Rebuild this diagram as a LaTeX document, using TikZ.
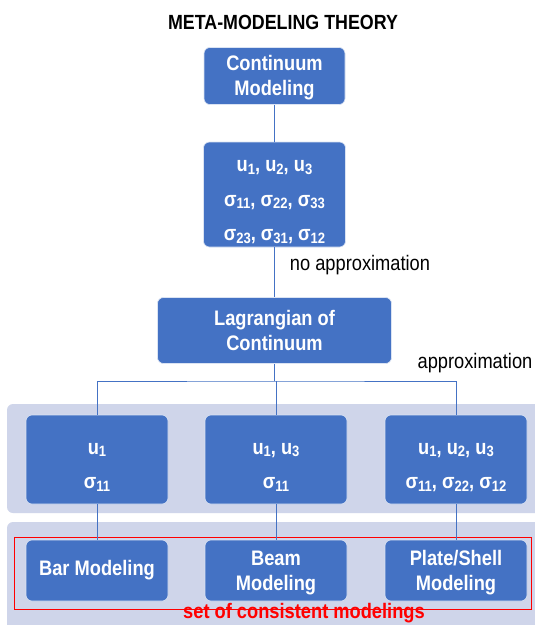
\documentclass[tikz,border=0pt]{standalone}
\usepackage{fontspec}
\setmainfont{Liberation Sans}[FakeStretch=0.87]
\definecolor{boxblue}{HTML}{4472C4}
\definecolor{bandgray}{HTML}{CFD5EA}
\definecolor{redline}{HTML}{FF0000}
\newcommand\sbs[1]{\raisebox{-2.5pt}[0pt][0pt]{\fontsize{15}{15}\selectfont #1}}
\newcommand\lowr[2]{\raisebox{-#1}[\height][\depth]{\begin{tabular}{@{}c@{}}#2\end{tabular}}}
\tikzset{
  box/.style={rectangle, rounded corners=6pt, fill=boxblue, draw=white!80!boxblue,
    line width=0.6pt, text=white, align=center, inner sep=0pt,
    font=\bfseries\fontsize{21}{25}\selectfont},
  varbox/.style={box, font=\bfseries\fontsize{21}{34.5}\selectfont},
  conn/.style={draw=boxblue, line width=0.8pt},
  lbl/.style={inner sep=0pt, font=\fontsize{21}{25}\selectfont},
  band/.style={fill=bandgray, rounded corners=6pt}
}
\begin{document}
\begin{tikzpicture}[x=1pt,y=-1pt]
\useasboundingbox (0,0) rectangle (535,625);
\clip (0,0) rectangle (535,625);
\fill[white] (0,0) rectangle (535,625);
% bands
\fill[band] (7,404) rectangle (548,513);
\fill[band] (7,522) rectangle (548,640);
% title
\node[lbl, font=\bfseries\fontsize{20.5}{25}\selectfont] (title) at (283,22) {META-MODELING THEORY};
% top chain
\node[box, minimum width=141pt, minimum height=57pt] (cont) at (274.5,76) {\lowr{2pt}{Continuum\\Modeling}};
\node[varbox, minimum width=142pt, minimum height=105pt] (vars) at (274.5,194.5)
  {\lowr{5pt}{u\sbs{1}, u\sbs{2}, u\sbs{3}\\σ\sbs{11}, σ\sbs{22}, σ\sbs{33}\\σ\sbs{23}, σ\sbs{31}, σ\sbs{12}}};
\node[box, minimum width=234pt, minimum height=66pt] (lag) at (274.5,330.5) {Lagrangian of\\Continuum};
\node[lbl] (noapp) at (360,265) {no approximation};
\node[lbl] (app) at (475,363) {approximation};
% middle row
\node[varbox, minimum width=142pt, minimum height=89pt] (r1) at (97,459.5) {\lowr{5pt}{u\sbs{1}\\σ\sbs{11}}};
\node[varbox, minimum width=142pt, minimum height=89pt] (r2) at (276,459.5) {\lowr{5pt}{u\sbs{1}, u\sbs{3}\\σ\sbs{11}}};
\node[varbox, minimum width=142pt, minimum height=89pt] (r3) at (456,459.5) {\lowr{5pt}{u\sbs{1}, u\sbs{2}, u\sbs{3}\\σ\sbs{11}, σ\sbs{22}, σ\sbs{12}}};
% bottom row
\node[box, minimum width=142pt, minimum height=61pt] (b1) at (97,570.5) {Bar Modeling};
\node[box, minimum width=142pt, minimum height=61pt] (b2) at (276,570.5) {\lowr{2pt}{Beam\\Modeling}};
\node[box, minimum width=142pt, minimum height=61pt] (b3) at (456,570.5) {\lowr{2pt}{Plate/Shell\\Modeling}};
% red frame and label
\draw[redline, line width=0.8pt] (14,537) rectangle (531.5,609);
\node[lbl, text=redline, font=\bfseries\fontsize{21}{25}\selectfont] (set) at (304,613) {set of consistent modelings};
% connectors
\coordinate (bus) at (274.5,381);
\draw[conn] (cont.south) -- (vars.north);
\draw[conn] (vars.south) -- (lag.north);
\draw[conn] (lag.south) -- (bus);
\draw[conn] (r1.north) |- (bus) -| (r3.north);
\draw[conn] (r2.north |- bus) -- (r2.north);
\draw[conn] (r1.south) -- (b1.north);
\draw[conn] (r2.south) -- (b2.north);
\draw[conn] (r3.south) -- (b3.north);
\end{tikzpicture}
\end{document}
